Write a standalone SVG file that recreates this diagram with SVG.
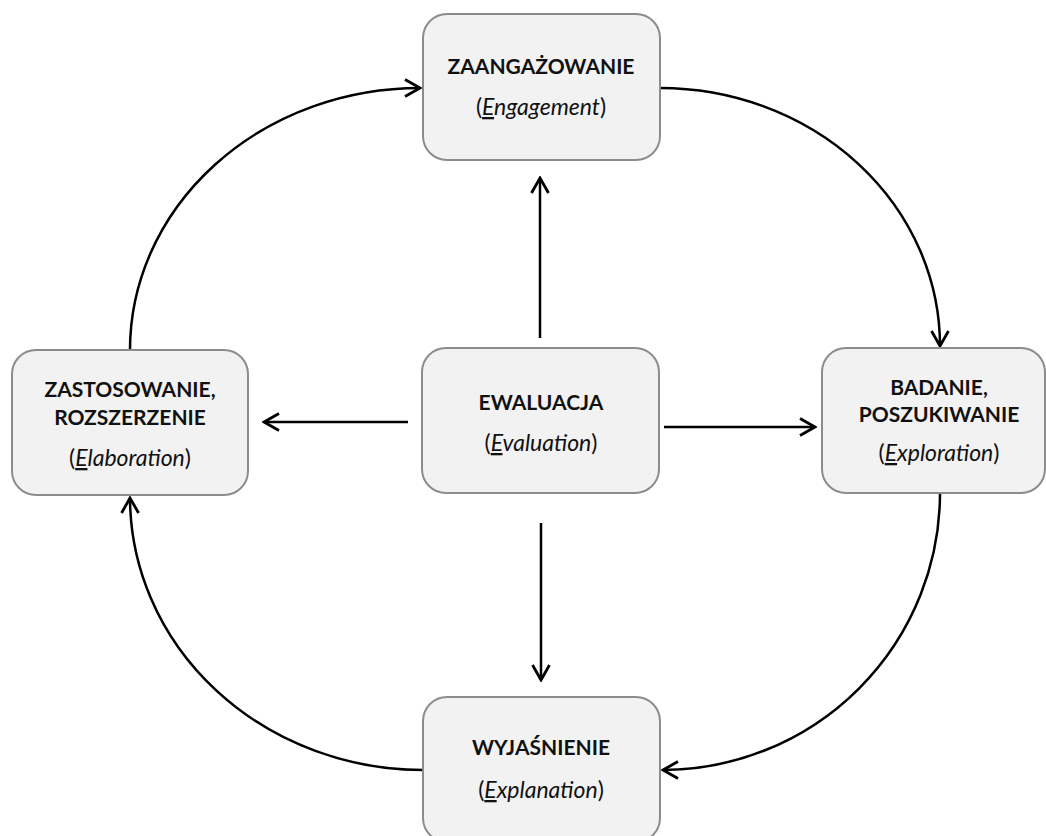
<svg xmlns="http://www.w3.org/2000/svg" width="1046" height="836" viewBox="0 0 1046 836">
<style>
.box{fill:#f2f2f2;stroke:#8c8c8c;stroke-width:2}
.t{font-family:Lato,"Liberation Sans",sans-serif;font-size:21px;fill:#111;text-anchor:middle}
.b{font-weight:bold}
.s{font-size:23px}
.i{font-style:italic}
.u{text-decoration:underline}
.c{fill:none;stroke:#000;stroke-width:2.5;marker-end:url(#ah)}
</style>
<defs>
<marker id="ah" markerUnits="userSpaceOnUse" viewBox="0 0 20 20" markerWidth="20" markerHeight="20" refX="18" refY="10" orient="auto">
<path d="M3,1.5 L18,10 L3,18.5" fill="none" stroke="#000" stroke-width="2.8" stroke-linejoin="miter"/>
</marker>
</defs>
<rect width="1046" height="836" fill="#fff"/>
<g id="connectors">
<path class="c" d="M540,338 L540,178"/>
<path class="c" d="M541,523 L541,680"/>
<path class="c" d="M408,422 L264,422"/>
<path class="c" d="M664,427 L815,427"/>
<path class="c" d="M130,350 A290,262 0 0 1 420,88"/>
<path class="c" d="M660,88 A280,258 0 0 1 940,346"/>
<path class="c" d="M940,493 A278,277 0 0 1 663,770"/>
<path class="c" d="M423,770 A293,273 0 0 1 130,498"/>
</g>
<g id="engagement">
<rect class="box" x="423" y="14" width="237" height="146" rx="24"/>
<text class="t b" x="541" y="74">ZAANGAŻOWANIE</text>
<text class="t s" x="541" y="115">(<tspan class="i u">E</tspan><tspan class="i">ngagement</tspan>)</text>
</g>
<g id="elaboration">
<rect class="box" x="12" y="350" width="236" height="145" rx="24"/>
<text class="t b" x="130" y="397">ZASTOSOWANIE,</text>
<text class="t b" x="130" y="425">ROZSZERZENIE</text>
<text class="t s" x="130" y="466">(<tspan class="i u">E</tspan><tspan class="i">laboration</tspan>)</text>
</g>
<g id="evaluation">
<rect class="box" x="422" y="348" width="237" height="145" rx="24"/>
<text class="t b" x="541" y="410">EWALUACJA</text>
<text class="t s" x="541" y="451">(<tspan class="i u">E</tspan><tspan class="i">valuation</tspan>)</text>
</g>
<g id="exploration">
<rect class="box" x="822" y="348" width="223" height="145" rx="24"/>
<text class="t b" x="939" y="395">BADANIE,</text>
<text class="t b" x="939" y="422">POSZUKIWANIE</text>
<text class="t s" x="939" y="461">(<tspan class="i u">E</tspan><tspan class="i">xploration</tspan>)</text>
</g>
<g id="explanation">
<rect class="box" x="423" y="697" width="237" height="145" rx="24"/>
<text class="t b" x="541" y="755">WYJAŚNIENIE</text>
<text class="t s" x="541" y="798">(<tspan class="i u">E</tspan><tspan class="i">xplanation</tspan>)</text>
</g>
</svg>
